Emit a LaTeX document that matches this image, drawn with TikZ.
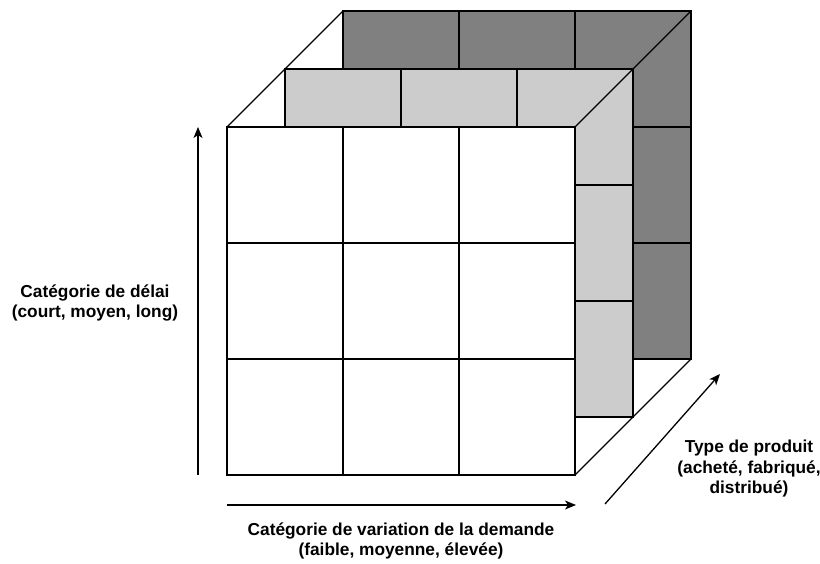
\documentclass[tikz,border=0pt]{standalone}
\usepackage{fontspec}
\setmainfont{Liberation Sans}
\usetikzlibrary{arrows.meta}
\definecolor{darkg}{HTML}{808080}
\definecolor{lightg}{HTML}{CCCCCC}
\newcommand\cubelayer[3]{%
  \filldraw[fill=#3] (#1,#2) rectangle ++(348,348);
  \foreach \i in {1,2}{%
    \draw (#1+116*\i,#2) -- ++(0,348);
    \draw (#1,#2+116*\i) -- ++(348,0);
  }%
}
\begin{document}
\begin{tikzpicture}[x=1pt,y=-1pt,line width=1.3pt,line join=miter,
  axis/.style={-{Stealth[length=11pt,width=9pt,inset=3pt]},line width=1.3pt},
  lbl/.style={font=\fontsize{17.3}{20.5}\selectfont\bfseries,align=center,inner sep=0pt}]
\useasboundingbox (0,0) rectangle (820,563);
\fill[white] (0,0) rectangle (820,563);
% layers, back to front
\cubelayer{343}{11}{darkg}
\cubelayer{285}{69}{lightg}
\cubelayer{227}{127}{white}
% cube edges
\coordinate (ftl) at (227,127);
\coordinate (btl) at (343,11);
\coordinate (ftr) at (575,127);
\coordinate (btr) at (691,11);
\coordinate (fbr) at (575,475);
\coordinate (bbr) at (691,359);
\draw (ftl) -- (btl);
\draw (ftr) -- (btr);
\draw (fbr) -- (bbr);
% axes
\coordinate (v0) at (198,475);
\coordinate (v1) at (198,127);
\coordinate (h0) at (227,505);
\coordinate (h1) at (576,505);
\coordinate (d0) at (605,504);
\coordinate (d1) at (720,374);
\draw[axis] (v0) -- (v1);
\draw[axis] (h0) -- (h1);
\draw[axis] (d0) -- (d1);
% labels
\node[lbl] (delai) at (95,303) {Catégorie de délai\\(court, moyen, long)};
\node[lbl] (demande) at (401,541) {Catégorie de variation de la demande\\(faible, moyenne, élevée)};
\node[lbl] (produit) at (749,469) {Type de produit\\(acheté, fabriqué,\\distribué)};
\end{tikzpicture}
\end{document}
